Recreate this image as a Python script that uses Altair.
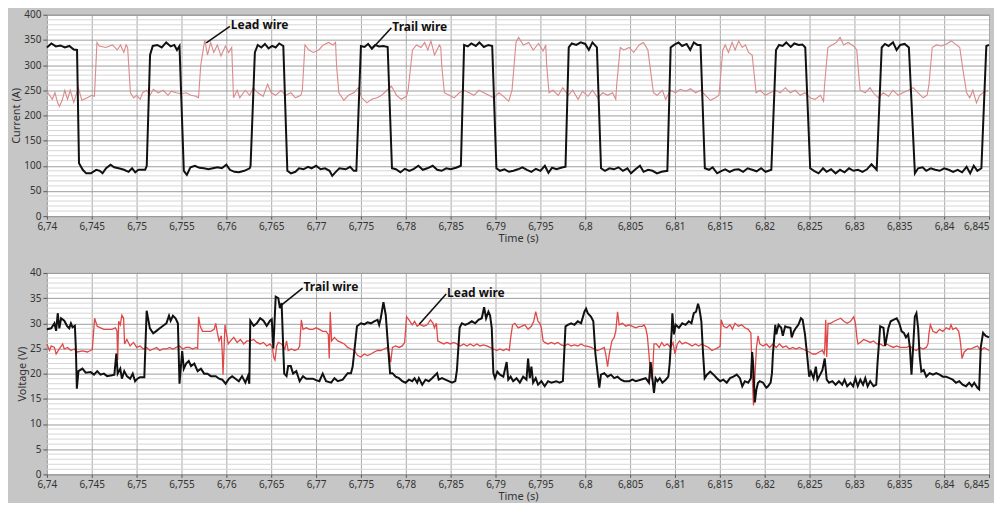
import altair as alt
import pandas as pd

T0 = 6.74  # s, left end of the time window; series times are ms after T0

time_ticks = [6.74, 6.745, 6.75, 6.755, 6.76, 6.765, 6.77, 6.775, 6.78, 6.785, 6.79,
              6.795, 6.8, 6.805, 6.81, 6.815, 6.82, 6.825, 6.83, 6.835, 6.84, 6.845]
current_ticks = [0, 50, 100, 150, 200, 250, 300, 350, 400]
voltage_ticks = [0, 5, 10, 15, 20, 25, 30, 35, 40]

# (ms after 6.74 s, current A) - trail wire
cur_trail = [(0, 335), (0.5, 343), (1.0, 337), (1.5, 339), (2.0, 335), (2.5, 338), (3.0, 331), (3.36, 330), (3.58, 105), (4.0, 92), (4.38, 85), (4.9, 85), (5.5, 92), (5.9, 90), (6.2, 85), (6.6, 95), (7.1, 102), (7.5, 97), (8.0, 95), (8.6, 92), (9.1, 88), (9.5, 95), (9.85, 87), (10.2, 92), (10.95, 92), (11.13, 100), (11.5, 320), (11.8, 338), (12.3, 340), (12.8, 335), (13.3, 345), (13.8, 337), (14.2, 340), (14.5, 330), (14.78, 338), (15.26, 90), (15.6, 82), (16.0, 97), (16.5, 100), (17.0, 96), (17.5, 95), (18.0, 93), (18.5, 95), (19.0, 97), (19.5, 95), (20.0, 102), (20.4, 92), (20.9, 88), (21.4, 87), (22.0, 90), (22.6, 95), (22.7, 100), (23.18, 325), (23.5, 340), (23.9, 335), (24.3, 342), (24.7, 333), (25.1, 338), (25.5, 335), (25.9, 343), (26.35, 338), (26.8, 90), (27.2, 85), (27.7, 88), (28.1, 95), (28.6, 93), (29.1, 98), (29.5, 95), (30.0, 100), (30.5, 93), (31.0, 95), (31.5, 90), (31.8, 80), (32.2, 88), (32.6, 95), (33.3, 93), (33.8, 98), (34.2, 90), (34.49, 90), (35.0, 338), (35.4, 336), (35.8, 342), (36.2, 333), (36.6, 340), (37.0, 337), (37.5, 338), (37.98, 336), (38.46, 95), (38.9, 93), (39.4, 87), (39.9, 94), (40.4, 90), (40.9, 94), (41.4, 100), (41.9, 92), (42.4, 95), (43.0, 100), (43.5, 92), (44.0, 90), (44.5, 95), (45.0, 93), (45.6, 96), (46.14, 100), (46.5, 340), (46.9, 337), (47.3, 343), (47.8, 338), (48.2, 345), (48.7, 336), (49.2, 340), (49.63, 338), (50.1, 95), (50.5, 90), (51.0, 93), (51.5, 88), (52.0, 90), (52.5, 93), (53.0, 97), (53.5, 92), (54.0, 88), (54.5, 94), (55.0, 90), (55.5, 100), (55.9, 86), (56.3, 96), (56.8, 93), (57.3, 96), (57.8, 98), (58.16, 335), (58.5, 343), (59.0, 340), (59.5, 345), (60.0, 342), (60.4, 330), (60.8, 345), (61.3, 335), (61.76, 95), (62.2, 90), (62.7, 95), (63.2, 93), (63.7, 97), (64.2, 90), (64.7, 95), (65.1, 85), (65.6, 93), (66.1, 100), (66.5, 88), (67.0, 92), (67.5, 90), (68.0, 85), (68.5, 88), (69.15, 90), (69.52, 335), (69.9, 340), (70.4, 345), (70.8, 338), (71.3, 342), (71.7, 330), (72.1, 345), (72.5, 340), (72.85, 340), (73.33, 95), (73.8, 92), (74.2, 97), (74.7, 85), (75.2, 90), (75.6, 93), (76.1, 88), (76.6, 92), (77.1, 93), (77.6, 88), (78.1, 95), (78.6, 92), (79.1, 89), (79.6, 95), (80.1, 88), (80.74, 92), (81.26, 330), (81.6, 340), (82.0, 338), (82.4, 345), (82.9, 336), (83.3, 343), (83.8, 340), (84.2, 341), (84.52, 335), (85.07, 95), (85.5, 90), (86.0, 85), (86.5, 95), (86.9, 88), (87.4, 93), (87.9, 85), (88.4, 92), (88.9, 87), (89.4, 95), (89.9, 90), (90.4, 92), (90.9, 88), (91.4, 93), (91.9, 103), (92.48, 92), (93.04, 335), (93.4, 342), (93.8, 338), (94.3, 345), (94.7, 330), (95.1, 340), (95.6, 342), (96.07, 335), (96.74, 85), (97.1, 95), (97.6, 97), (98.0, 90), (98.5, 95), (99.0, 92), (99.5, 90), (100.0, 95), (100.5, 92), (101.0, 88), (101.5, 92), (102.0, 87), (102.5, 98), (102.9, 85), (103.3, 100), (103.7, 90), (104.15, 95), (104.7, 338), (105.0, 340)]

# (ms, current A) - lead wire
cur_lead = [(0, 248), (0.3, 240), (0.6, 232), (0.9, 245), (1.2, 225), (1.4, 218), (1.7, 230), (2.0, 250), (2.3, 232), (2.6, 250), (3.0, 226), (3.5, 255), (3.9, 230), (4.5, 235), (5.0, 240), (5.3, 238), (5.58, 345), (5.84, 338), (6.57, 335), (7.3, 340), (7.85, 330), (8.2, 340), (8.58, 325), (8.83, 340), (9.0, 335), (9.12, 300), (9.31, 245), (9.67, 235), (10.0, 240), (10.4, 232), (10.66, 245), (11.1, 250), (11.5, 240), (11.86, 252), (12.4, 245), (12.96, 250), (13.5, 240), (13.87, 248), (14.4, 245), (14.96, 243), (15.5, 245), (16.06, 240), (16.6, 238), (16.9, 235), (17.15, 300), (17.6, 350), (17.9, 320), (18.25, 345), (18.6, 325), (19.0, 340), (19.4, 318), (19.9, 338), (20.26, 325), (20.6, 335), (20.8, 235), (21.2, 250), (21.5, 235), (22.1, 250), (22.6, 240), (23.0, 255), (23.5, 245), (24.1, 238), (24.6, 262), (25.0, 245), (25.5, 240), (26.1, 250), (26.6, 240), (27.2, 245), (27.7, 235), (28.3, 240), (28.47, 250), (28.76, 340), (29.2, 330), (29.7, 325), (30.3, 330), (30.8, 340), (31.4, 345), (31.9, 340), (32.17, 345), (32.28, 300), (32.54, 245), (33.1, 230), (33.6, 240), (34.2, 245), (34.7, 255), (35.1, 235), (35.66, 225), (36.2, 232), (36.8, 235), (37.3, 240), (37.9, 250), (38.4, 258), (38.97, 240), (39.5, 232), (40.07, 238), (40.26, 250), (40.74, 330), (41.2, 340), (41.7, 335), (42.1, 345), (42.46, 330), (42.8, 348), (43.2, 320), (43.75, 340), (43.9, 335), (44.0, 300), (44.3, 245), (44.85, 240), (45.4, 235), (45.96, 245), (46.5, 250), (47.06, 245), (47.6, 240), (48.16, 250), (48.7, 245), (49.26, 240), (49.8, 235), (50.37, 245), (50.9, 238), (51.47, 228), (51.84, 250), (52.28, 345), (52.57, 355), (53.1, 340), (53.7, 345), (54.2, 330), (54.8, 343), (55.3, 328), (55.6, 340), (55.7, 300), (55.96, 245), (56.4, 250), (56.99, 240), (57.5, 255), (58.1, 240), (58.6, 250), (59.2, 232), (59.7, 248), (60.3, 238), (60.8, 250), (61.4, 235), (61.95, 245), (62.5, 240), (63.05, 245), (63.4, 232), (63.5, 260), (63.9, 335), (64.3, 330), (64.9, 335), (65.4, 325), (66.0, 340), (66.5, 345), (66.98, 330), (67.2, 300), (67.6, 245), (68.0, 240), (68.6, 250), (68.96, 232), (69.5, 250), (70.07, 245), (70.6, 252), (71.2, 248), (71.74, 253), (72.3, 245), (72.85, 250), (73.4, 240), (73.96, 230), (74.5, 235), (74.9, 240), (75.0, 260), (75.33, 330), (75.6, 340), (75.96, 325), (76.37, 345), (76.7, 330), (77.1, 348), (77.5, 335), (77.85, 340), (78.2, 325), (78.6, 320), (78.78, 290), (79.04, 245), (79.5, 250), (80.07, 240), (80.6, 245), (81.2, 250), (81.74, 245), (82.3, 255), (82.85, 245), (83.4, 250), (83.96, 240), (84.5, 245), (85.07, 235), (85.6, 232), (86.2, 240), (86.56, 228), (86.67, 260), (87.04, 335), (87.5, 340), (88.0, 345), (88.4, 355), (88.8, 340), (89.3, 345), (89.9, 338), (90.26, 330), (90.44, 290), (90.63, 250), (91.2, 245), (91.74, 255), (92.1, 245), (92.67, 235), (93.2, 245), (93.8, 238), (94.3, 250), (94.9, 240), (95.4, 245), (96.0, 250), (96.56, 255), (97.1, 245), (97.67, 235), (98.1, 240), (98.3, 260), (98.67, 335), (99.15, 340), (99.7, 338), (100.26, 342), (100.8, 348), (101.37, 340), (101.74, 335), (102.1, 290), (102.5, 245), (102.85, 235), (103.2, 250), (103.6, 225), (103.96, 240), (104.33, 245), (104.9, 250)]

# (ms, voltage V) - trail wire
volt_trail = [(0, 28.8), (0.48, 29.0), (0.84, 30.0), (1.03, 28.5), (1.21, 32.0), (1.39, 29.0), (1.58, 31.0), (1.94, 30.5), (2.24, 29.5), (2.49, 29.0), (2.68, 30.0), (2.86, 29.2), (3.12, 29.5), (3.23, 25.0), (3.34, 17.0), (3.52, 20.5), (3.96, 21.0), (4.33, 20.2), (4.88, 20.3), (5.25, 19.8), (5.61, 20.5), (5.98, 19.8), (6.35, 20.0), (6.71, 19.5), (7.26, 19.7), (7.52, 19.8), (7.74, 24.0), (7.89, 20.0), (8.18, 21.0), (8.36, 19.0), (8.62, 20.5), (8.91, 19.5), (9.28, 19.0), (9.57, 20.0), (9.83, 18.5), (10.09, 19.0), (10.38, 19.3), (10.86, 19.3), (11.12, 32.5), (11.48, 29.0), (11.85, 28.0), (12.22, 28.5), (12.58, 29.0), (12.95, 29.5), (13.32, 30.0), (13.61, 31.5), (13.79, 30.5), (14.05, 31.5), (14.34, 31.0), (14.6, 30.0), (14.78, 18.0), (15.08, 24.5), (15.26, 21.0), (15.52, 22.0), (15.81, 22.5), (16.07, 21.5), (16.43, 22.0), (16.8, 20.5), (17.17, 21.0), (17.53, 20.0), (17.9, 20.0), (18.27, 19.5), (18.82, 19.5), (19.19, 19.0), (19.55, 18.8), (19.92, 18.0), (20.29, 19.0), (20.65, 19.5), (21.02, 19.0), (21.39, 18.5), (21.75, 19.5), (22.12, 18.2), (22.41, 19.5), (22.56, 18.0), (22.67, 30.5), (23.04, 29.5), (23.4, 30.0), (23.77, 31.0), (24.14, 30.5), (24.5, 29.5), (24.87, 30.5), (25.06, 30.8), (25.24, 25.0), (25.5, 35.3), (25.79, 35.0), (25.97, 33.0), (26.16, 34.0), (26.45, 20.0), (26.71, 19.5), (26.89, 21.5), (27.18, 21.5), (27.44, 20.0), (27.8, 20.5), (28.17, 18.5), (28.54, 19.5), (28.9, 19.0), (29.27, 19.0), (29.64, 19.0), (30.0, 18.7), (30.37, 18.5), (30.74, 20.0), (31.11, 18.5), (31.68, 18.2), (32.05, 19.1), (32.42, 18.5), (32.97, 18.8), (33.52, 20.1), (33.89, 20.1), (34.08, 21.4), (34.56, 29.4), (35.0, 30.0), (35.37, 29.8), (35.74, 30.2), (36.11, 30.0), (36.48, 30.4), (36.85, 30.7), (37.03, 29.7), (37.21, 31.0), (37.51, 34.2), (37.77, 31.6), (37.95, 27.2), (38.25, 20.1), (38.51, 20.1), (38.87, 19.4), (39.24, 19.1), (39.61, 18.5), (39.98, 18.2), (40.35, 18.8), (40.72, 18.5), (40.98, 19.1), (41.27, 18.2), (41.46, 19.1), (41.83, 17.8), (42.2, 18.8), (42.56, 18.5), (42.93, 19.1), (43.49, 20.1), (43.67, 18.8), (44.04, 19.1), (44.41, 18.8), (44.78, 18.5), (45.15, 18.2), (45.52, 18.5), (45.7, 20.7), (46.0, 29.1), (46.25, 30.0), (46.62, 29.7), (46.99, 30.0), (47.36, 30.4), (47.73, 30.0), (48.1, 30.7), (48.47, 31.0), (48.73, 33.2), (48.95, 31.0), (49.21, 32.3), (49.39, 31.6), (49.58, 29.1), (49.76, 20.1), (49.94, 19.1), (50.2, 20.4), (50.5, 19.8), (50.87, 19.4), (51.24, 22.3), (51.42, 18.8), (51.68, 19.4), (51.97, 18.5), (52.34, 19.1), (52.71, 18.2), (53.08, 19.4), (53.45, 18.8), (53.63, 23.0), (53.82, 19.1), (54.0, 21.4), (54.19, 18.2), (54.48, 19.1), (54.74, 17.8), (55.11, 18.5), (55.48, 17.5), (55.85, 18.5), (56.22, 18.2), (56.77, 18.5), (57.14, 18.2), (57.51, 18.5), (57.8, 29.4), (58.06, 29.7), (58.43, 30.0), (58.8, 29.7), (59.17, 30.4), (59.54, 30.0), (59.91, 32.3), (60.09, 32.9), (60.28, 32.0), (60.65, 31.3), (60.9, 30.4), (61.13, 24.0), (61.38, 20.1), (61.57, 17.2), (61.75, 19.8), (62.12, 20.1), (62.49, 19.4), (62.86, 19.8), (63.23, 19.1), (63.6, 19.4), (63.97, 18.8), (64.34, 18.5), (64.89, 18.5), (65.26, 18.8), (65.63, 18.5), (66.18, 18.8), (66.73, 19.1), (67.1, 18.2), (67.29, 22.3), (67.66, 16.2), (67.84, 19.1), (68.05, 18.5), (68.31, 19.1), (68.6, 18.2), (68.97, 18.8), (69.26, 19.4), (69.41, 22.0), (69.63, 28.4), (69.71, 32.0), (69.89, 27.8), (70.07, 29.7), (70.44, 29.1), (70.81, 30.0), (71.18, 29.7), (71.54, 30.4), (71.84, 30.0), (72.1, 32.0), (72.35, 32.3), (72.57, 33.9), (72.72, 32.9), (72.94, 30.4), (73.13, 24.0), (73.31, 19.1), (73.57, 19.8), (73.93, 20.4), (74.3, 19.8), (74.67, 19.1), (75.04, 18.5), (75.4, 18.8), (75.77, 18.2), (76.14, 19.1), (76.51, 19.4), (76.88, 19.8), (77.24, 19.1), (77.5, 17.5), (77.79, 18.5), (78.16, 18.2), (78.46, 19.1), (78.6, 24.3), (78.71, 22.0), (78.9, 14.3), (79.08, 16.9), (79.26, 18.2), (79.45, 18.5), (79.82, 18.2), (80.18, 17.2), (80.37, 17.5), (80.66, 18.2), (80.81, 20.1), (80.92, 24.0), (81.18, 29.7), (81.29, 27.8), (81.54, 29.7), (81.84, 29.1), (82.02, 27.5), (82.28, 29.4), (82.57, 29.2), (82.87, 29.1), (83.01, 27.2), (83.24, 28.4), (83.49, 29.1), (83.75, 29.7), (84.04, 31.0), (84.23, 30.7), (84.49, 27.8), (84.71, 24.0), (84.96, 19.4), (85.15, 20.4), (85.44, 19.1), (85.7, 21.4), (85.88, 18.8), (86.18, 19.8), (86.43, 20.7), (86.69, 23.0), (86.91, 18.8), (87.17, 18.2), (87.54, 18.5), (87.9, 17.8), (88.27, 18.5), (88.64, 17.8), (88.9, 18.8), (89.19, 17.5), (89.56, 18.2), (89.85, 17.5), (90.11, 19.1), (90.37, 17.5), (90.66, 18.8), (90.96, 17.8), (91.21, 19.1), (91.47, 17.5), (91.76, 18.5), (92.13, 17.5), (92.43, 17.8), (92.57, 22.0), (92.87, 29.4), (93.24, 29.1), (93.42, 25.5), (93.6, 27.2), (93.79, 29.1), (94.04, 30.4), (94.34, 30.7), (94.71, 31.0), (95.0, 30.0), (95.26, 28.4), (95.51, 28.1), (95.74, 27.2), (95.99, 27.8), (96.18, 25.2), (96.36, 19.8), (96.54, 25.2), (96.73, 31.3), (96.91, 32.0), (97.1, 29.1), (97.28, 23.3), (97.46, 20.4), (97.72, 20.7), (98.01, 19.4), (98.38, 20.1), (98.75, 19.8), (99.12, 20.1), (99.49, 19.8), (99.85, 19.4), (100.22, 19.4), (100.59, 19.1), (100.96, 18.8), (101.32, 18.2), (101.69, 18.5), (102.06, 17.8), (102.43, 17.5), (102.79, 18.2), (103.09, 17.5), (103.35, 18.2), (103.71, 17.2), (103.9, 16.9), (104.08, 25.2), (104.34, 28.1), (104.63, 27.5), (105.0, 27.2)]

# (ms, voltage V) - lead wire
volt_lead = [(0, 25.9), (0.29, 24.6), (0.48, 25.5), (0.84, 25.2), (1.03, 23.9), (1.39, 24.9), (1.76, 25.9), (1.94, 24.9), (2.31, 25.2), (2.68, 24.6), (3.04, 24.9), (3.41, 24.3), (3.96, 24.5), (4.51, 24.3), (4.88, 24.6), (5.06, 24.8), (5.32, 31.0), (5.61, 29.4), (5.98, 29.1), (6.35, 28.8), (6.71, 28.8), (7.26, 28.8), (7.63, 29.1), (7.81, 28.5), (7.89, 22.7), (8.0, 30.4), (8.18, 29.7), (8.36, 31.6), (8.55, 31.0), (8.66, 25.9), (8.91, 26.8), (9.28, 25.5), (9.65, 26.2), (10.01, 25.2), (10.38, 25.5), (10.75, 24.9), (11.12, 25.2), (11.48, 24.6), (11.85, 24.9), (12.22, 25.2), (12.58, 24.6), (12.95, 24.9), (13.32, 24.9), (13.68, 25.2), (14.05, 24.9), (14.42, 25.2), (14.78, 25.5), (15.15, 24.9), (15.52, 25.2), (15.88, 25.2), (16.25, 24.9), (16.62, 25.2), (16.8, 25.0), (16.91, 31.3), (17.09, 29.4), (17.35, 28.4), (17.72, 28.4), (18.27, 28.4), (18.64, 28.8), (18.82, 30.0), (19.0, 28.1), (19.19, 26.5), (19.44, 27.5), (19.55, 24.0), (19.63, 19.8), (19.85, 29.7), (20.03, 27.8), (20.21, 25.9), (20.47, 26.5), (20.83, 27.2), (21.2, 26.2), (21.57, 26.8), (21.94, 25.9), (22.3, 26.5), (22.67, 26.5), (23.04, 26.8), (23.4, 26.2), (23.77, 25.9), (24.14, 26.2), (24.5, 25.5), (24.87, 25.9), (25.13, 25.2), (25.28, 23.3), (25.42, 22.7), (25.61, 25.5), (25.79, 26.2), (26.16, 25.9), (26.52, 24.9), (26.71, 26.5), (26.89, 24.6), (27.26, 24.9), (27.62, 24.6), (27.99, 24.9), (28.17, 25.5), (28.36, 30.7), (28.54, 28.8), (28.91, 29.1), (29.27, 28.8), (29.64, 28.8), (30.01, 29.1), (30.37, 28.8), (30.74, 28.4), (31.11, 28.4), (31.36, 27.8), (31.47, 23.0), (31.58, 32.3), (31.73, 26.5), (32.05, 27.2), (32.42, 26.5), (32.79, 26.2), (33.15, 25.9), (33.52, 25.2), (33.89, 24.9), (34.26, 24.6), (34.63, 23.6), (35.0, 23.3), (35.37, 23.9), (35.74, 23.6), (36.11, 23.9), (36.48, 24.3), (36.85, 24.6), (37.21, 24.6), (37.58, 24.9), (37.95, 25.2), (38.14, 23.9), (38.32, 22.3), (38.51, 25.2), (38.87, 25.5), (39.24, 25.2), (39.61, 25.5), (39.87, 26.2), (40.09, 31.3), (40.35, 30.7), (40.72, 29.7), (40.98, 30.4), (41.27, 29.4), (41.57, 29.8), (42.01, 29.4), (42.38, 29.7), (42.75, 30.7), (43.04, 30.0), (43.19, 29.1), (43.41, 30.0), (43.56, 26.5), (43.86, 26.2), (44.23, 25.9), (44.59, 26.2), (44.96, 25.9), (45.33, 26.2), (45.7, 25.9), (46.07, 25.5), (46.44, 25.9), (46.81, 25.5), (47.18, 25.9), (47.55, 25.5), (47.92, 25.9), (48.28, 25.5), (48.65, 25.7), (49.02, 25.5), (49.39, 25.2), (49.76, 24.9), (50.13, 24.6), (50.5, 24.9), (50.87, 24.6), (51.2, 24.9), (51.53, 24.6), (51.68, 27.0), (51.9, 29.7), (52.16, 30.0), (52.53, 29.1), (52.9, 29.4), (53.27, 29.7), (53.63, 28.8), (54.0, 29.4), (54.26, 30.4), (54.48, 32.3), (54.74, 30.4), (54.93, 30.0), (55.11, 29.1), (55.3, 26.5), (55.48, 26.2), (55.85, 25.9), (56.22, 26.2), (56.59, 25.9), (56.96, 26.2), (57.33, 25.7), (57.69, 25.5), (58.06, 25.9), (58.43, 25.5), (58.8, 25.7), (59.17, 25.5), (59.54, 25.9), (59.91, 25.5), (60.28, 25.4), (60.65, 25.2), (61.01, 24.9), (61.38, 24.6), (61.75, 24.9), (62.12, 25.2), (62.31, 23.6), (62.49, 21.4), (62.68, 23.9), (62.97, 26.5), (63.23, 27.2), (63.41, 28.5), (63.6, 32.3), (63.78, 29.7), (64.15, 30.0), (64.52, 29.4), (64.89, 29.7), (65.26, 29.4), (65.63, 29.1), (66.0, 29.4), (66.37, 29.4), (66.55, 29.7), (66.73, 29.1), (66.92, 27.5), (67.1, 23.9), (67.29, 19.4), (67.47, 18.8), (67.66, 25.9), (67.92, 25.9), (68.24, 25.2), (68.53, 26.2), (68.79, 25.5), (69.15, 25.9), (69.52, 25.2), (69.78, 26.2), (70.0, 23.9), (70.26, 25.9), (70.51, 26.5), (70.81, 25.9), (71.18, 26.2), (71.54, 25.9), (71.91, 25.5), (72.28, 25.9), (72.65, 25.5), (73.0, 25.9), (73.38, 25.5), (73.75, 25.2), (74.12, 24.6), (74.49, 24.9), (74.85, 25.2), (75.04, 25.5), (75.15, 30.7), (75.4, 29.4), (75.77, 29.1), (76.14, 29.7), (76.4, 28.8), (76.69, 30.0), (77.06, 29.4), (77.43, 29.7), (77.79, 29.1), (78.16, 28.8), (78.46, 28.1), (78.6, 20.1), (78.75, 13.7), (78.9, 19.1), (79.08, 25.2), (79.26, 27.5), (79.45, 25.9), (79.82, 25.5), (80.18, 25.9), (80.55, 25.2), (80.92, 25.9), (81.29, 25.2), (81.65, 25.9), (82.02, 25.2), (82.39, 25.5), (82.76, 24.9), (83.12, 25.2), (83.49, 24.9), (83.86, 25.2), (84.23, 24.9), (84.6, 24.6), (84.96, 24.3), (85.33, 23.9), (85.7, 23.9), (86.07, 24.3), (86.43, 24.6), (86.62, 23.9), (86.69, 25.0), (86.8, 30.7), (86.91, 23.3), (87.06, 30.0), (87.35, 30.0), (87.72, 30.4), (88.09, 30.7), (88.46, 31.0), (88.82, 30.4), (89.19, 30.0), (89.56, 30.4), (89.93, 31.3), (90.11, 30.0), (90.29, 27.0), (90.4, 25.9), (90.66, 26.2), (91.03, 26.8), (91.4, 26.5), (91.76, 26.2), (92.13, 26.5), (92.5, 25.9), (92.87, 25.9), (93.24, 25.5), (93.6, 25.9), (93.97, 25.5), (94.34, 25.2), (94.71, 25.5), (95.07, 25.2), (95.44, 25.2), (95.81, 25.2), (96.18, 25.5), (96.54, 24.9), (96.91, 24.6), (97.28, 25.2), (97.65, 24.9), (98.01, 25.2), (98.2, 25.9), (98.31, 28.0), (98.46, 29.7), (98.75, 28.4), (99.12, 28.1), (99.49, 28.8), (99.85, 28.4), (100.22, 29.1), (100.59, 28.8), (100.77, 29.7), (100.96, 28.8), (101.32, 29.1), (101.62, 28.4), (101.76, 27.0), (101.88, 25.2), (101.99, 23.0), (102.24, 24.3), (102.61, 24.9), (102.98, 24.9), (103.35, 25.2), (103.71, 25.5), (104.08, 24.6), (104.45, 25.2), (104.73, 24.9), (105.0, 24.6)]

# annotation labels: (text, time s, value) and arrows (t1, v1, t2, v2)
top_notes = [("Lead wire", 6.7605, 379), ("Trail wire", 6.7785, 376)]
top_arrows = [(6.7604, 377, 6.75776, 344), (6.7784, 374, 6.77617, 331)]
bot_notes = [("Trail wire", 6.7686, 37.3), ("Lead wire", 6.7846, 36.1)]
bot_arrows = [(6.7685, 37.0, 6.7660, 33.4), (6.7845, 35.8, 6.7815, 29.8)]


def frame(pairs):
    return pd.DataFrame({"t": [T0 + m / 1000.0 for m, _ in pairs], "v": [v for _, v in pairs]})


FONT = "Noto Sans"
LABEL_COLOR = "#333333"
label_expr = "replace(format(datum.value, '.4~f'), '.', ',')"
last_tick_test = "datum.value > %s" % (time_ticks[-1] - 0.0005)

x_axis = alt.Axis(values=time_ticks, labelExpr=label_expr, grid=True, gridColor="#a9a9a9",
                  gridWidth=1, domain=False, tickSize=3, tickColor="#555555", labelFontSize=10,
                  labelColor=LABEL_COLOR, labelFont=FONT,
                  labelAlign={"condition": {"test": last_tick_test, "value": "right"},
                              "value": "center"},
                  title="Time (s)", titleFont=FONT,
                  titleFontSize=11, titleFontWeight="normal", titleColor=LABEL_COLOR,
                  titlePadding=1, labelPadding=2)


def y_axis(vals, title):
    return alt.Axis(values=vals, grid=True, gridColor="#9d9d9d", gridWidth=1, domain=False,
                    tickSize=4, tickColor="#555555", labelFontSize=10, labelColor=LABEL_COLOR,
                    labelFont=FONT, title=title, titleFont=FONT, titleFontSize=11,
                    titleFontWeight="normal", titleColor=LABEL_COLOR, titlePadding=2, labelPadding=2)


def panel(trail, lead, ticks, minor_step, ymax, title, notes, arrows, lead_color, lead_width, h):
    xs = alt.Scale(domain=[time_ticks[0], time_ticks[-1]], nice=False, zero=False)
    ys = alt.Scale(domain=[0, ymax], nice=False, zero=True)
    xa = x_axis
    ya = y_axis(ticks, title)
    minor = pd.DataFrame({"v": [k * minor_step for k in range(int(ymax / minor_step) + 1)
                                if (k % 5) != 0]})
    minor_layer = alt.Chart(minor).mark_rule(color="#d6d6d6", strokeWidth=1).encode(
        y=alt.Y("v:Q", scale=ys, axis=ya))
    lead_layer = alt.Chart(frame(lead)).mark_line(color=lead_color, strokeWidth=lead_width).encode(
        x=alt.X("t:Q", scale=xs, axis=xa), y=alt.Y("v:Q", scale=ys, axis=ya))
    trail_layer = alt.Chart(frame(trail)).mark_line(color="#111111", strokeWidth=2).encode(
        x=alt.X("t:Q", scale=xs, axis=xa), y=alt.Y("v:Q", scale=ys, axis=ya))
    adf = pd.DataFrame(arrows, columns=["t1", "v1", "t2", "v2"])
    arrow_layer = alt.Chart(adf).mark_rule(color="#111111", strokeWidth=1.6).encode(
        x=alt.X("t1:Q", scale=xs, axis=xa), y=alt.Y("v1:Q", scale=ys, axis=ya),
        x2="t2:Q", y2="v2:Q")
    ndf = pd.DataFrame(notes, columns=["label", "t", "v"])
    note_layer = alt.Chart(ndf).mark_text(align="left", baseline="middle", fontWeight="bold",
                                          fontSize=12, font=FONT, color="#111111").encode(
        x=alt.X("t:Q", scale=xs, axis=xa), y=alt.Y("v:Q", scale=ys, axis=ya), text="label:N")
    return alt.layer(minor_layer, lead_layer, trail_layer, arrow_layer, note_layer).properties(
        width=945, height=h)


top = panel(cur_trail, cur_lead, current_ticks, 10, 400, "Current (A)", top_notes, top_arrows,
            "#d98a8a", 1.1, 202)
bottom = panel(volt_trail, volt_lead, voltage_ticks, 1, 40, "Voltage (V)", bot_notes, bot_arrows,
               "#e04848", 1.3, 202)

chart = alt.vconcat(top, bottom, spacing=23, background="#c6c6c6",
                    padding={"left": 2, "top": 0, "right": 0, "bottom": 0}).configure_view(
    fill="white", stroke="#8c8c8c", strokeWidth=1)

chart.save("out.html", embed_options={"renderer": "svg", "actions": False})
